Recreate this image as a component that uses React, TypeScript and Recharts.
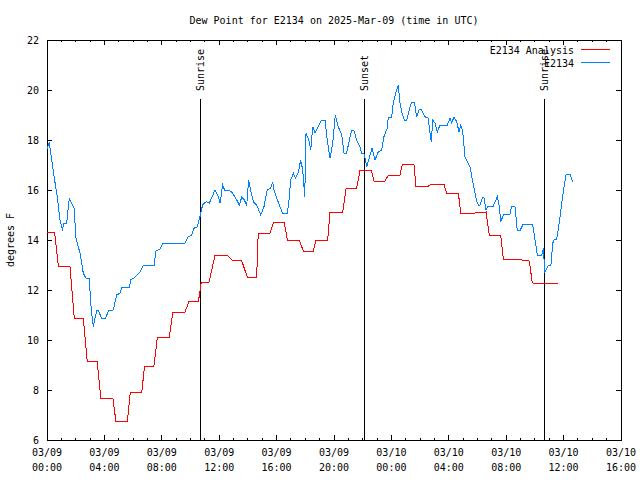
import React from 'react';
import { LineChart, Line, XAxis, YAxis, ReferenceLine, ReferenceArea } from 'recharts';

const FONT = '"DejaVu Sans Mono", monospace';
const PLOT_TOP = 40;
const PLOT_RIGHT = 621;

// hours since 03/09 00:00 UTC
const ANALYSIS_HOURS = [
    0, 0.53, 0.79, 1.6, 1.9, 2.53, 2.8, 3.5, 3.75, 4.6, 4.8, 5.6, 5.8, 6.6, 6.8, 7.45,
    7.69, 8.52, 8.76, 9.59, 9.89, 10.55, 10.75, 11.29, 11.71, 12.56, 12.94, 13.57, 13.96, 14.61,
    14.72, 15.54, 15.77, 16.54, 16.75, 17.58, 17.86, 18.56, 18.75, 19.56, 19.72, 20.6, 20.84, 21.58,
    21.81, 22.6, 22.79, 23.55, 23.78, 24.6, 24.76, 25.57, 25.71, 26.6, 26.69, 27.66, 27.85, 28.67,
    28.83, 29.66, 30.6, 30.82, 31.62, 31.8, 32.73, 33.61, 33.82, 35.63,
];
const ANALYSIS_VALUES = [
    14.31, 14.31, 12.96, 12.96, 10.87, 10.87, 9.15, 9.15, 7.65, 7.65, 6.75, 6.75, 7.9, 7.9, 8.95, 8.95,
    10.11, 10.11, 11.09, 11.09, 11.53, 11.53, 12.31, 12.31, 13.4, 13.4, 13.17, 13.17, 12.51, 12.51,
    14.27, 14.27, 14.69, 14.69, 14.0, 14.0, 13.56, 13.56, 13.99, 13.99, 15.09, 15.09, 16.07, 16.07,
    16.77, 16.77, 16.36, 16.36, 16.59, 16.59, 17.03, 17.03, 16.16, 16.16, 16.21, 16.23, 15.87, 15.87,
    15.07, 15.07, 15.12, 14.19, 14.19, 13.23, 13.23, 13.16, 12.28, 12.24,
];

const OBS_HOURS = [
    0, 0.16, 0.26, 0.53, 0.72, 0.9, 1.07, 1.18, 1.37, 1.55, 1.65, 1.88, 2.02, 2.3, 2.53, 2.72,
    2.95, 3.04, 3.18, 3.23, 3.32, 3.46, 3.6, 3.79, 4.06, 4.3, 4.62, 4.85, 5.09, 5.2, 5.74, 5.83,
    6.13, 6.48, 6.71, 7.46, 7.6, 7.87, 8.06, 9.6, 9.85, 10.08, 10.24, 10.47, 10.66, 10.85, 11.1, 11.31,
    11.71, 11.94, 12.06, 12.24, 12.4, 12.75, 12.94, 13.22, 13.4, 13.57, 13.75, 13.92, 14.05, 14.19,
    14.38, 14.61, 14.89, 15.12, 15.35, 15.59, 15.73, 15.82, 16.01, 16.24, 16.42, 16.75, 16.89, 16.98,
    17.17, 17.31, 17.52, 17.68, 17.82, 17.91, 17.96, 18.05, 18.24, 18.38, 18.52, 18.68, 18.84, 19.14,
    19.37, 19.53, 19.72, 19.91, 20.09, 20.3, 20.54, 20.7, 20.88, 21.07, 21.23, 21.39, 21.58, 21.81,
    21.93, 22.11, 22.28, 22.51, 22.65, 22.86, 23.09, 23.32, 23.48, 23.71, 23.78, 24.02, 24.13, 24.32,
    24.48, 24.6, 24.72, 24.9, 25.07, 25.3, 25.41, 25.6, 25.76, 25.94, 26.11, 26.34, 26.57, 26.69,
    26.78, 26.88, 27.04, 27.2, 27.39, 27.9, 28.08, 28.2, 28.36, 28.55, 28.71, 28.83, 28.97, 29.13,
    29.29, 29.48, 29.71, 29.95, 30.06, 30.17, 30.36, 30.45, 30.59, 30.75, 31.1, 31.38, 31.52, 31.62,
    31.8, 32.26, 32.38, 32.61, 32.77, 32.96, 33.19, 33.84, 34.01, 34.17, 34.48, 34.59, 34.69, 34.82,
    34.94, 35.12, 35.24, 35.33, 35.52, 35.66, 35.87, 36.03, 36.17, 36.45, 36.63,
];
const OBS_VALUES = [
    17.63, 17.9, 17.47, 16.4, 15.73, 14.8, 14.43, 14.67, 14.67, 15.65, 15.53, 15.3, 14.07, 13.47, 12.67, 12.47,
    12.47, 11.53, 10.73, 10.53, 10.8, 11.17, 11.17, 10.87, 10.87, 11.17, 11.2, 11.8, 11.87, 12.11, 12.11, 12.4,
    12.51, 12.73, 12.99, 12.99, 13.57, 13.63, 13.87, 13.87, 14.13, 14.2, 14.47, 14.53, 14.93, 15.42, 15.53, 15.47,
    16.0, 15.73, 15.47, 16.2, 15.97, 15.97, 15.87, 15.6, 15.4, 15.71, 15.6, 15.4, 16.4, 16.0,
    15.53, 15.4, 15.0, 15.33, 16.0, 16.07, 16.33, 16.0, 15.67, 15.33, 15.07, 15.07, 15.73, 16.4,
    16.67, 16.47, 16.73, 17.2, 16.8, 16.13, 15.71, 18.27, 18.0, 17.6, 18.53, 18.27, 18.47, 18.8,
    18.8, 18.0, 17.27, 17.87, 19.0, 18.53, 18.2, 17.47, 17.47, 18.0, 18.37, 18.37, 18.0, 17.73,
    17.47, 17.44, 16.93, 17.4, 17.67, 17.2, 17.53, 17.6, 18.13, 18.47, 18.91, 18.91, 19.47, 19.93,
    20.2, 19.47, 19.13, 18.8, 18.8, 19.33, 19.51, 19.51, 18.93, 19.23, 19.2, 18.93, 18.87, 18.27,
    17.93, 18.8, 18.67, 18.33, 18.6, 18.6, 18.87, 18.69, 18.91, 18.73, 18.33, 18.6, 18.33, 17.33,
    17.13, 16.93, 16.2, 15.53, 15.4, 15.4, 15.71, 15.71, 15.2, 15.36, 15.36, 15.73, 15.33, 14.73,
    15.0, 15.04, 15.33, 15.36, 14.4, 14.37, 14.64, 14.64, 14.0, 13.4, 13.4, 13.67, 12.73, 12.83,
    13.0, 13.0, 13.87, 14.0, 14.03, 14.53, 15.47, 16.13, 16.6, 16.64, 16.33,
];

const X_TICKS = [
    0, 1, 2, 3, 4, 5, 6, 7, 8, 9, 10, 11, 12, 13, 14, 15, 16, 17, 18, 19, 20,
    21, 22, 23, 24, 25, 26, 27, 28, 29, 30, 31, 32, 33, 34, 35, 36, 37, 38, 39, 40,
];
const MAJOR_X_TICKS = [0, 4, 8, 12, 16, 20, 24, 28, 32, 36, 40];
const X_TICK_DATES = ['03/09', '03/09', '03/09', '03/09', '03/09', '03/09', '03/10', '03/10', '03/10', '03/10', '03/10'];
const X_TICK_TIMES = ['00:00', '04:00', '08:00', '12:00', '16:00', '20:00', '00:00', '04:00', '08:00', '12:00', '16:00'];
const Y_TICKS = [6, 8, 10, 12, 14, 16, 18, 20, 22];

const EVENT_NAMES = ['Sunrise', 'Sunset', 'Sunrise'];
const EVENT_HOURS = [10.69, 22.11, 34.68];
const EVENT_TOP = 19.64;

const SERIES_NAMES = ['E2134 Analysis', 'E2134'];
const SERIES_COLORS = ['#ff0000', '#0080ff'];

const analysisData = ANALYSIS_HOURS.map((h, i) => ({ h, v: ANALYSIS_VALUES[i] }));
const obsData = OBS_HOURS.map((h, i) => ({ h, v: OBS_VALUES[i] }));

const XTick = (props: any) => {
    const { x, y, payload } = props;
    const i = MAJOR_X_TICKS.indexOf(payload.value);
    const len = i >= 0 ? 5 : 2;
    return (
        <g shapeRendering="crispEdges">
            <line x1={x} x2={x} y1={y} y2={y - len} stroke="#000" />
            <line x1={x} x2={x} y1={PLOT_TOP} y2={PLOT_TOP + len} stroke="#000" />
            {i >= 0 && (
                <>
                    <text x={x} y={y + 16} textAnchor="middle" fontFamily={FONT} fontSize={10} fill="#000">
                        {X_TICK_DATES[i]}
                    </text>
                    <text x={x} y={y + 31} textAnchor="middle" fontFamily={FONT} fontSize={10} fill="#000">
                        {X_TICK_TIMES[i]}
                    </text>
                </>
            )}
        </g>
    );
};

const YTick = (props: any) => {
    const { x, y, payload } = props;
    return (
        <g shapeRendering="crispEdges">
            <line x1={x} x2={x + 5} y1={y} y2={y} stroke="#000" />
            <line x1={PLOT_RIGHT} x2={PLOT_RIGHT - 5} y1={y} y2={y} stroke="#000" />
            <text x={x - 8} y={y + 3.5} textAnchor="end" fontFamily={FONT} fontSize={10} fill="#000">
                {payload.value}
            </text>
        </g>
    );
};

const EventLabel = (props: any) => {
    const { viewBox, text } = props;
    if (!viewBox) return null;
    const x = viewBox.x + 3.5;
    const y = viewBox.y - 8;
    return (
        <text
            x={x}
            y={y}
            transform={`rotate(-90 ${x} ${y})`}
            textAnchor="start"
            fontFamily={FONT}
            fontSize={10}
            fill="#000"
        >
            {text}
        </text>
    );
};

export default function App() {
    return (
        <div style={{ position: 'absolute', left: 0, top: 0, width: 640, height: 480, background: '#fff' }}>
            <LineChart width={640} height={480} margin={{ top: 40, right: 19, bottom: 0, left: 0 }}>
                <XAxis
                    dataKey="h"
                    type="number"
                    domain={[0, 40]}
                    ticks={X_TICKS}
                    interval={0}
                    allowDataOverflow
                    height={40}
                    tickSize={0}
                    tickMargin={0}
                    tickLine={false}
                    axisLine={false}
                    tick={<XTick />}
                />
                <YAxis
                    type="number"
                    domain={[6, 22]}
                    ticks={Y_TICKS}
                    interval={0}
                    allowDataOverflow
                    width={47}
                    tickSize={0}
                    tickMargin={0}
                    tickLine={false}
                    axisLine={false}
                    tick={<YTick />}
                />
                <ReferenceArea
                    x1={0}
                    x2={40}
                    y1={6}
                    y2={22}
                    fill="none"
                    stroke="#000"
                    strokeWidth={1}
                    shapeRendering="crispEdges"
                />
                {EVENT_HOURS.map((h, i) => (
                    <ReferenceLine
                        key={`ev-${i}`}
                        segment={[{ x: h, y: 6 }, { x: h, y: EVENT_TOP }]}
                        stroke="#000"
                        strokeWidth={1}
                        shapeRendering="crispEdges"
                        label={<EventLabel text={EVENT_NAMES[i]} />}
                    />
                ))}
                <Line
                    data={analysisData}
                    dataKey="v"
                    name={SERIES_NAMES[0]}
                    type="linear"
                    stroke={SERIES_COLORS[0]}
                    strokeWidth={1}
                    shapeRendering="crispEdges"
                    dot={false}
                    isAnimationActive={false}
                />
                <Line
                    data={obsData}
                    dataKey="v"
                    name={SERIES_NAMES[1]}
                    type="linear"
                    stroke={SERIES_COLORS[1]}
                    strokeWidth={1}
                    shapeRendering="crispEdges"
                    dot={false}
                    isAnimationActive={false}
                />
            </LineChart>
            <svg
                width={640}
                height={480}
                style={{ position: 'absolute', left: 0, top: 0, pointerEvents: 'none' }}
            >
                <text x={334} y={23.5} textAnchor="middle" fontFamily={FONT} fontSize={10} fill="#000">
                    Dew Point for E2134 on 2025-Mar-09 (time in UTC)
                </text>
                <text
                    x={14}
                    y={240}
                    transform="rotate(-90 14 240)"
                    textAnchor="middle"
                    fontFamily={FONT}
                    fontSize={10}
                    fill="#000"
                >
                    degrees F
                </text>
                {SERIES_NAMES.map((name, i) => (
                    <g key={name} shapeRendering="crispEdges">
                        <text x={574} y={53.5 + i * 13} textAnchor="end" fontFamily={FONT} fontSize={10} fill="#000">
                            {name}
                        </text>
                        <line x1={581} x2={610} y1={49.5 + i * 13} y2={49.5 + i * 13} stroke={SERIES_COLORS[i]} />
                    </g>
                ))}
            </svg>
        </div>
    );
}
